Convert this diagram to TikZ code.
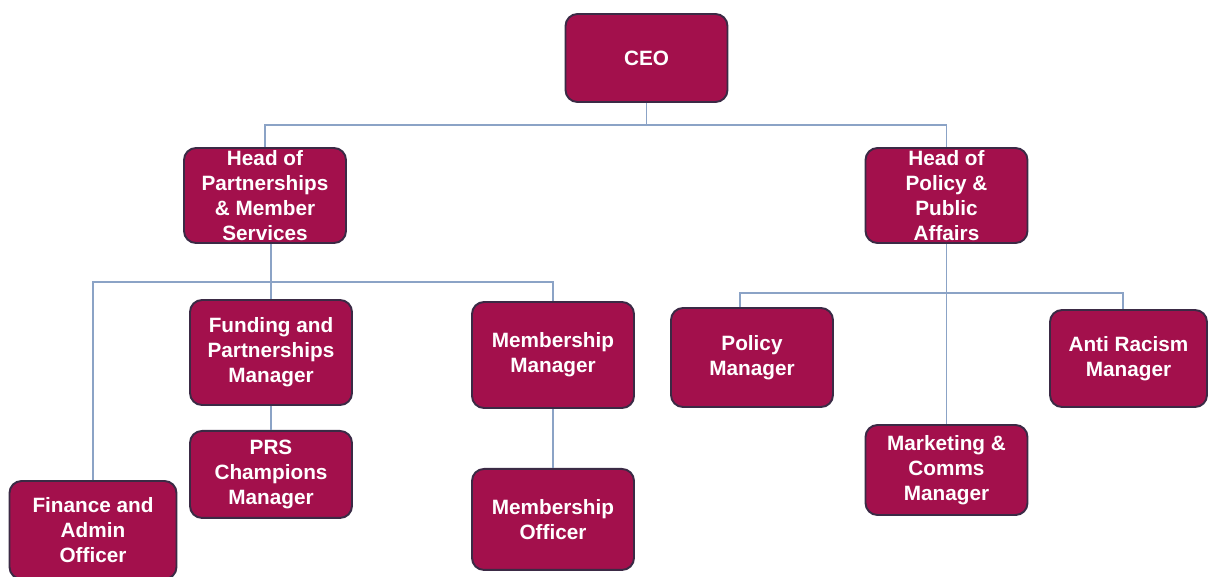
\documentclass[tikz,border=0pt]{standalone}
\usepackage{fontspec}
\setmainfont{Liberation Sans}
\usetikzlibrary{positioning}
\definecolor{boxred}{HTML}{A3104C}
\definecolor{boxline}{HTML}{3B2A45}
\definecolor{linkblue}{HTML}{8BA3C6}

\begin{document}
\begin{tikzpicture}[x=0.2mm, y=-0.2mm,
     node distance = 4.8mm and 3mm,
        box/.style = {rectangle, rounded corners=2.4mm, draw=boxline, line width=1.1pt,
                      fill=boxred, text=white, align=center, inner sep=1pt,
                      font=\fontsize{11.8pt}{14.2pt}\selectfont\bfseries,
                      minimum width=32.4mm},
       link/.style = {draw=linkblue, line width=0.8pt}
                        ]
\useasboundingbox (0,0) rectangle (1208,576);
% top
\node (ceo)[box, minimum height=17.6mm] at (646.5,58) {CEO};
\node (hpart)[box, minimum height=19mm] at (265,195.5) {Head of\\Partnerships\\\& Member\\Services};
\node (hpol)[box, minimum height=19mm] at (946.5,195.5) {Head of\\Policy \&\\Public\\Affairs};
% left branch
\node (fund)[box, minimum height=21mm] at (271,352.5) {Funding and\\Partnerships\\Manager};
\node (prs)[box, minimum height=17.4mm, below =of fund] {PRS\\Champions\\Manager};
\node (memm)[box, minimum height=21.2mm] at (553,355) {Membership\\Manager};
\node (memo)[box, minimum height=20.2mm, below =11.8mm of memm] {Membership\\Officer};
\node (fin)[box, minimum width=33.4mm, minimum height=19.6mm] at (93,530) {Finance and\\Admin\\Officer};
% right branch
\node (pol)[box, minimum height=19.8mm] at (752,357.5) {Policy\\Manager};
\node (anti)[box, minimum width=31.4mm, minimum height=19.4mm] at (1128.5,358.5) {Anti Racism\\Manager};
\node (mkt)[box, minimum height=18mm] at (946.5,470) {Marketing \&\\Comms\\Manager};
% bus points
\coordinate (j0) at (646.5,125);
\coordinate (j1) at (271,282);
\coordinate (pl) at (740,293);
\coordinate (ar) at (1123,293);
\draw[link] (ceo) -- (j0);
\draw[link] (hpart) |- (j0) -| (hpol);
\draw[link] (j1 |- hpart.south) -- (fund);
\draw[link] (fin) |- (j1) -| (memm);
\draw[link] (fund) -- (prs);
\draw[link] (memm) -- (memo);
\draw[link] (hpol) -- (mkt);
\draw[link] (pol.north -| pl) -- (pl) -- (ar) -- (anti.north -| ar);
\end{tikzpicture}
\end{document}
